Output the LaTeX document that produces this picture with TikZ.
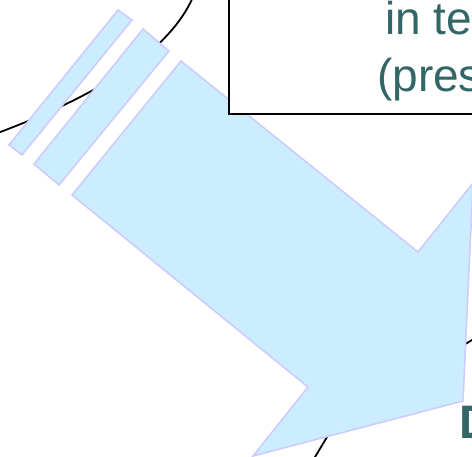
\documentclass[tikz,border=0pt]{standalone}
\usepackage{fontspec}
\setmainfont{Liberation Sans}
\usetikzlibrary{positioning}
\definecolor{arrowfill}{RGB}{204,236,255}
\definecolor{arrowline}{RGB}{204,204,255}
\definecolor{textteal}{RGB}{51,102,102}

\begin{document}
\begin{tikzpicture}[x=1pt, y=-1pt,
    arrowpart/.style={fill=arrowfill, draw=arrowline, line width=1.6pt},
    outline/.style={black, line width=1.8pt},
    boxtext/.style={textteal, font=\fontsize{46}{55}\selectfont, inner sep=0pt, anchor=base west}]
    \useasboundingbox (0,0) rectangle (472,457);
    \clip (0,0) rectangle (472,457);

    % curves behind the arrow
    \draw[outline] (193,-3) .. controls (170,50) and (100,95) .. (-5,134);
    \draw[outline] (442,358) -- (482,334);
    \draw[outline] (345,407) -- (309,467);

    % striped arrow
    \draw[arrowpart] (118,10) -- (132,20) -- (22,155) -- (9,145) -- cycle;
    \draw[arrowpart] (143,29) -- (169,51) -- (59,185) -- (34,164) -- cycle;
    \draw[arrowpart] (181,61) -- (418,252) -- (473,183) -- (463,401)
        -- (253,456) -- (308,387) -- (72,195) -- cycle;

    % text box
    \draw[line width=2pt, fill=white] (229,114) rectangle (490,-10);
    \node[boxtext] (line1) at (385,35) {in te};
    \node[boxtext] (line2) at (377,92) {(pres};
    \node[boxtext, font=\fontsize{47}{55}\selectfont\bfseries] (dlabel) at (459,439) {D};
\end{tikzpicture}
\end{document}
